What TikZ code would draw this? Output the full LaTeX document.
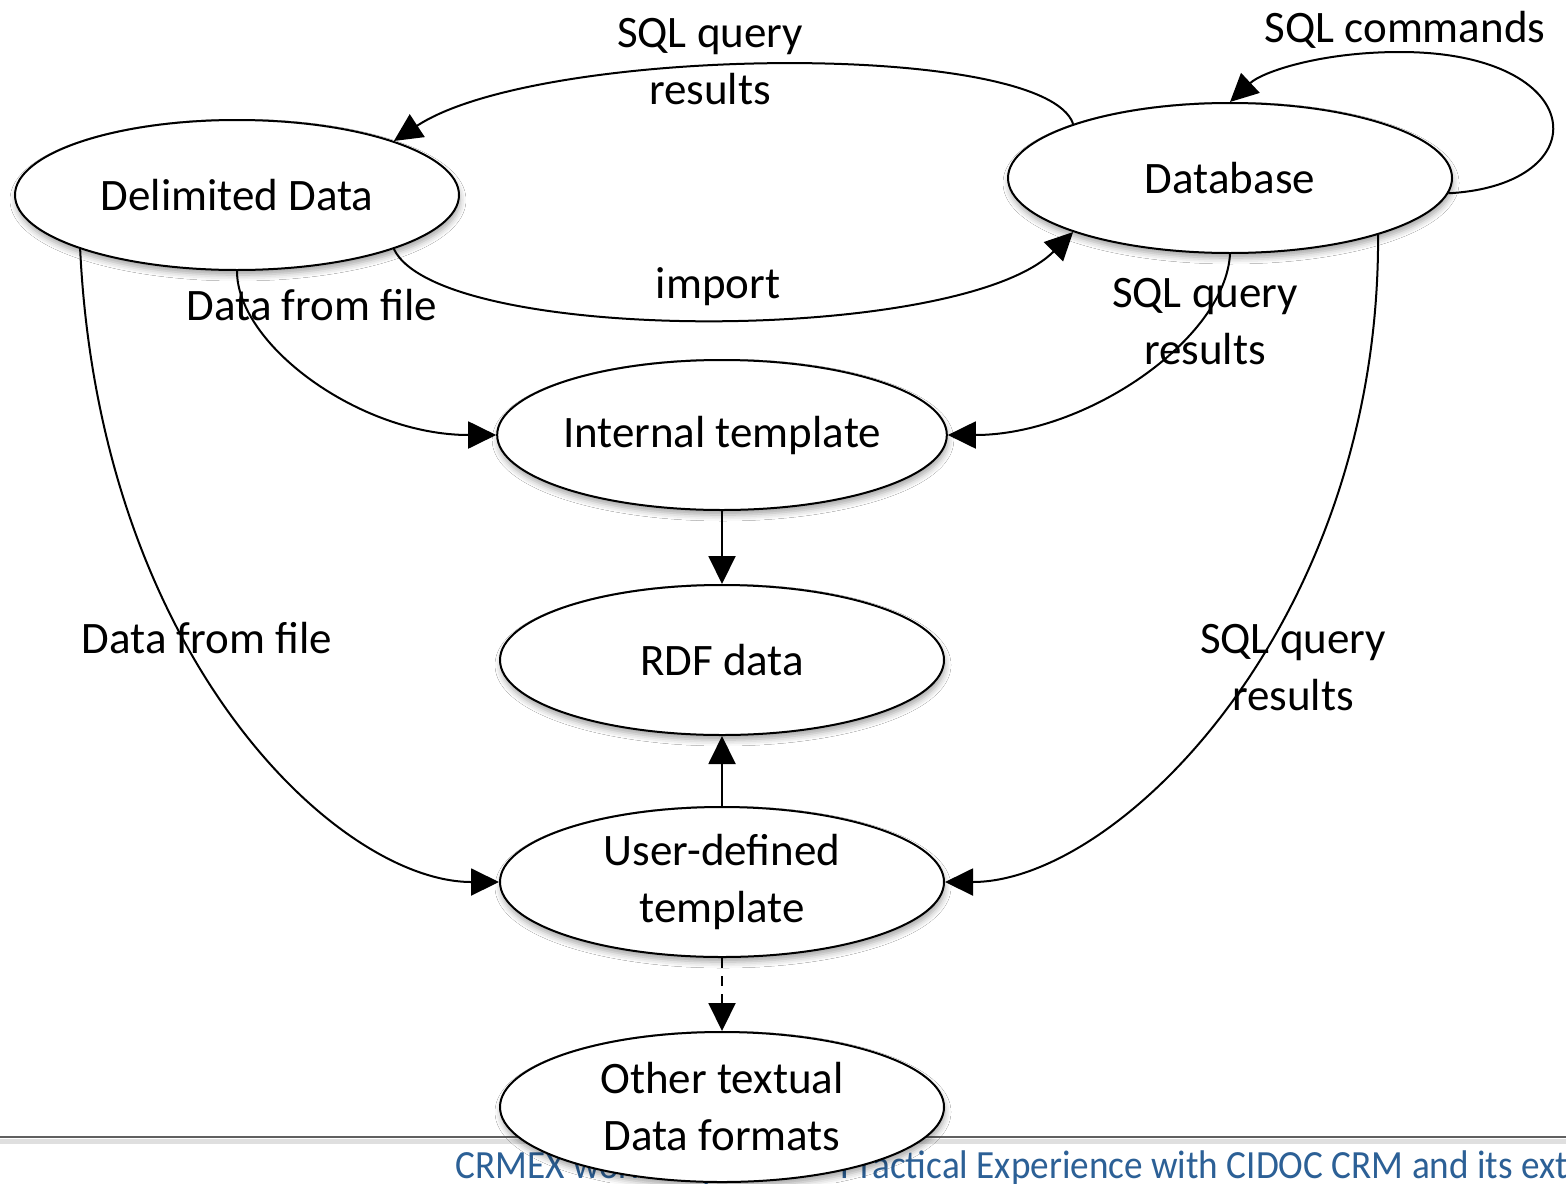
\documentclass[tikz,border=0pt]{standalone}
\usepackage{fontspec}
\setmainfont{Carlito}
\usetikzlibrary{shapes.geometric, arrows.meta, shadows.blur}
\definecolor{footerblue}{RGB}{44,96,150}
\newcommand\mainfs{\fontsize{22.5}{28.5}\selectfont}
\newcommand\footfs{\fontsize{20}{24}\selectfont}

\begin{document}
\begin{tikzpicture}[x=0.5pt, y=-0.5pt,
  state/.style={ellipse, draw=black, line width=1pt, fill=white,
    minimum width=222pt, minimum height=75pt, inner sep=0pt,
    align=center, font=\mainfs,
    blur shadow={shadow xshift=0.5pt, shadow yshift=-2.5pt,
      shadow blur radius=3pt, shadow opacity=35}},
  flow/.style={draw=black, line width=1pt,
    -{Triangle[length=14pt, width=13.5pt]}},
  lbl/.style={align=center, font=\mainfs, inner sep=0pt}]

\useasboundingbox (0,0) rectangle (1566,1183);
\fill[white] (0,0) rectangle (1566,1183);

% footer rule and caption
\draw[line width=2.5pt, gray!25] (0,1141) -- (1566,1141);
\draw[line width=1.3pt, gray!75!black] (0,1137) -- (1566,1137);
\begin{scope}
  \clip (0,1139) rectangle (1566,1183);
  \node[anchor=base west, inner sep=0pt, font=\footfs, text=footerblue]
    (footer) at (455,1178)
    {\scalebox{0.93}[1]{CRMEX workshop 2013 -- Practical Experience with CIDOC CRM and its extensions}};
\end{scope}

% states
\node[state] (dd)  at (237,195)  {Delimited Data};
\node[state] (db)  at (1230,178) {Database};
\node[state] (it)  at (722,435)  {Internal template};
\node[state] (rdf) at (722,660)  {RDF data};
\node[state] (ut)  at (722,882)  {User-defined\\template};
\node[state] (ot)  at (722,1107) {Other textual\\Data formats};

% flows between the two sources
\draw[flow] (db.161) .. controls (1045,40) and (540,45) .. (dd.19);
\draw[flow] (dd.-19) .. controls (440,345) and (960,345) .. (db.-161);
\draw[flow] (db.-4) .. controls (1600,185) and (1590,52) .. (1400,52)
  .. controls (1320,52) and (1262,72) .. (db.north);

% flows into the internal template
\draw[flow] (dd.south) .. controls (237,345) and (360,435) .. (it.west);
\draw[flow] (db.south) .. controls (1225,340) and (1085,435) .. (it.east);

% flows into the user-defined template
\draw[flow] (dd.-161) .. controls (100,660) and (340,882) .. (ut.west);
\draw[flow] (db.-21) .. controls (1380,620) and (1120,882) .. (ut.east);

% straight flows
\draw[flow] (it.south) -- (rdf.north);
\draw[flow] (ut.north) -- (rdf.south);
\draw[flow, dashed, dash pattern=on 5pt off 4pt] (ut.south) -- (ot.north);

% labels
\node[lbl] (l1) at (710,62)   {SQL query\\results};
\node[lbl] (l2) at (1405,30)  {SQL commands};
\node[lbl] (l3) at (718,287)  {import};
\node[lbl] (l4) at (312,305)  {Data from file};
\node[lbl] (l5) at (1205,322) {SQL query\\results};
\node[lbl] (l6) at (207,638)  {Data from file};
\node[lbl] (l7) at (1293,668) {SQL query\\results};
\end{tikzpicture}
\end{document}
